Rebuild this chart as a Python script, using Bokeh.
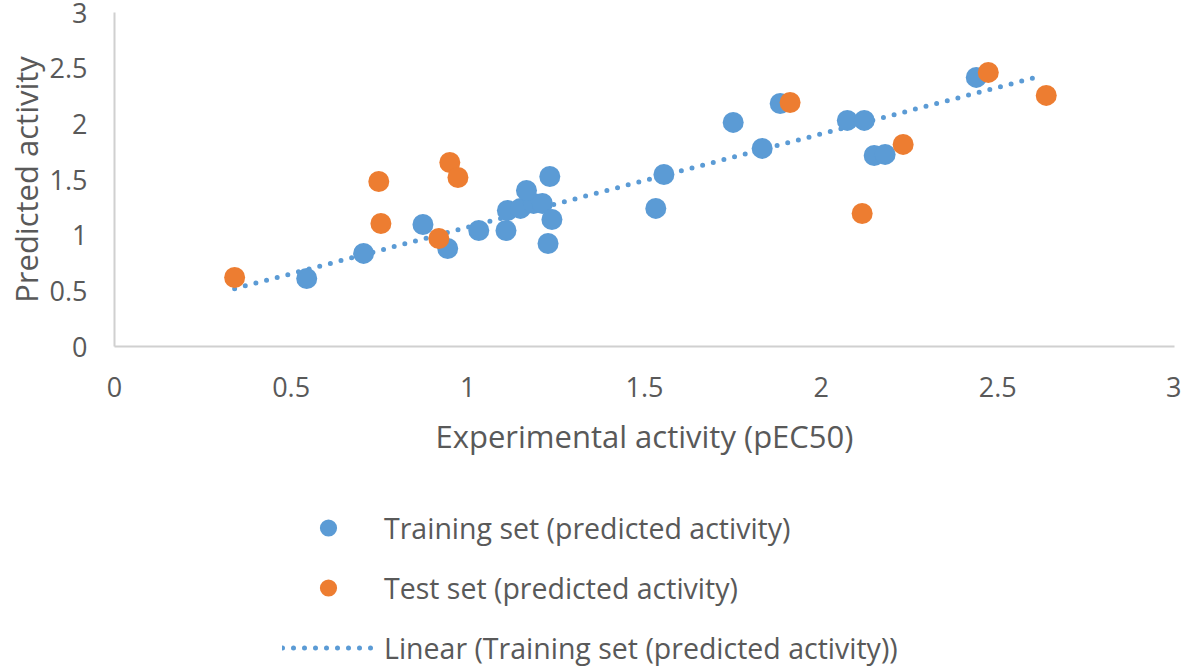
from bokeh.plotting import figure
from bokeh.models import Legend, LegendItem, FixedTicker, Range1d
from bokeh.layouts import column
from bokeh.embed import file_html
from bokeh.resources import INLINE

# ---- data ----
train_x = [0.544, 0.705, 0.873, 0.943, 1.031, 1.108, 1.112, 1.149, 1.186, 1.211, 1.166,
           1.232, 1.238, 1.227, 1.532, 1.555, 1.751, 1.833, 1.884, 2.074, 2.122, 2.150,
           2.181, 2.439]
train_y = [0.611, 0.836, 1.096, 0.880, 1.042, 1.042, 1.222, 1.240, 1.285, 1.285, 1.402,
           1.527, 1.141, 0.925, 1.240, 1.545, 2.013, 1.779, 2.183, 2.031, 2.031, 1.716,
           1.725, 2.417]
test_x = [0.340, 0.748, 0.754, 0.918, 0.949, 0.972, 1.912, 2.116, 2.232, 2.473, 2.637]
test_y = [0.620, 1.482, 1.105, 0.970, 1.653, 1.518, 2.192, 1.195, 1.815, 2.462, 2.255]

trend_slope = 0.837
trend_intercept = 0.235
trend_x_range = [0.34, 2.618]

axis_ticks = [0, 0.5, 1, 1.5, 2, 2.5, 3]
axis_tick_labels = {0: "0", 0.5: "0.5", 1: "1", 1.5: "1.5", 2: "2", 2.5: "2.5", 3: "3"}

x_title = "Experimental activity (pEC50)"
y_title = "Predicted activity"
legend_labels = ["Training set (predicted activity)",
                 "Test set (predicted activity)",
                 "Linear (Training set (predicted activity))"]

# ---- style ----
BLUE = "#5B9BD5"
ORANGE = "#ED7D31"
TEXT = "#595959"
AXIS = "#D0D0D0"
FONT = "Open Sans"
W = 1181

p = figure(width=W, height=475, x_range=(0, 3), y_range=(0, 3),
           output_backend="svg", toolbar_location=None,
           min_border_left=114, min_border_top=12, min_border_right=7,
           min_border_bottom=129)
p.outline_line_color = None
p.grid.grid_line_color = None

trend_y = [trend_slope * v + trend_intercept for v in trend_x_range]
trend_style = dict(line_color=BLUE, line_width=5, line_dash="0 11", line_cap="round")
train_style = dict(size=21, fill_color=BLUE, line_color=None)
test_style = dict(size=21, fill_color=ORANGE, line_color=None)

p.line(trend_x_range, trend_y, **trend_style)
p.scatter(train_x, train_y, **train_style)
p.scatter(test_x, test_y, **test_style)

for ax in (p.xaxis[0], p.yaxis[0]):
    ax.ticker = FixedTicker(ticks=axis_ticks)
    ax.major_label_overrides = axis_tick_labels
    ax.axis_line_color = AXIS
    ax.axis_line_width = 2
    ax.major_tick_line_color = None
    ax.minor_tick_line_color = None
    ax.major_label_text_font = FONT
    ax.major_label_text_font_size = "27px"
    ax.major_label_text_color = TEXT
    ax.axis_label_text_font = FONT
    ax.axis_label_text_font_size = "31px"
    ax.axis_label_text_font_style = "normal"
    ax.axis_label_text_color = TEXT

p.xaxis.axis_label = x_title
p.yaxis.axis_label = y_title
p.xaxis.major_label_standoff = 24
p.yaxis.major_label_standoff = 21
p.xaxis.axis_label_standoff = 15
p.yaxis.axis_label_standoff = 0

# ---- legend strip below the chart ----
# The key renderers hold the same series, but this strip's ranges keep them
# out of view, so only their legend swatches are drawn.
lg = figure(width=W, height=194, x_range=Range1d(10, 11), y_range=Range1d(10, 11),
            output_backend="svg", toolbar_location=None,
            x_axis_type=None, y_axis_type=None,
            min_border_left=0, min_border_right=0, min_border_top=0, min_border_bottom=0)
lg.outline_line_color = None
lg.grid.grid_line_color = None
k_train = lg.scatter(train_x, train_y, **train_style)
k_test = lg.scatter(test_x, test_y, **test_style)
k_trend = lg.line(trend_x_range, trend_y, **trend_style)

legend = Legend(items=[LegendItem(label=legend_labels[0], renderers=[k_train]),
                       LegendItem(label=legend_labels[1], renderers=[k_test]),
                       LegendItem(label=legend_labels[2], renderers=[k_trend])],
                location=(168, 0), orientation="vertical",
                glyph_width=92, glyph_height=43, label_standoff=10, spacing=17,
                padding=0, margin=0,
                border_line_color=None, background_fill_alpha=0,
                label_text_font=FONT, label_text_font_size="28.5px",
                label_text_color=TEXT)
lg.add_layout(legend)

layout = column(p, lg, spacing=0)
open("out.html", "w").write(file_html(layout, INLINE))
